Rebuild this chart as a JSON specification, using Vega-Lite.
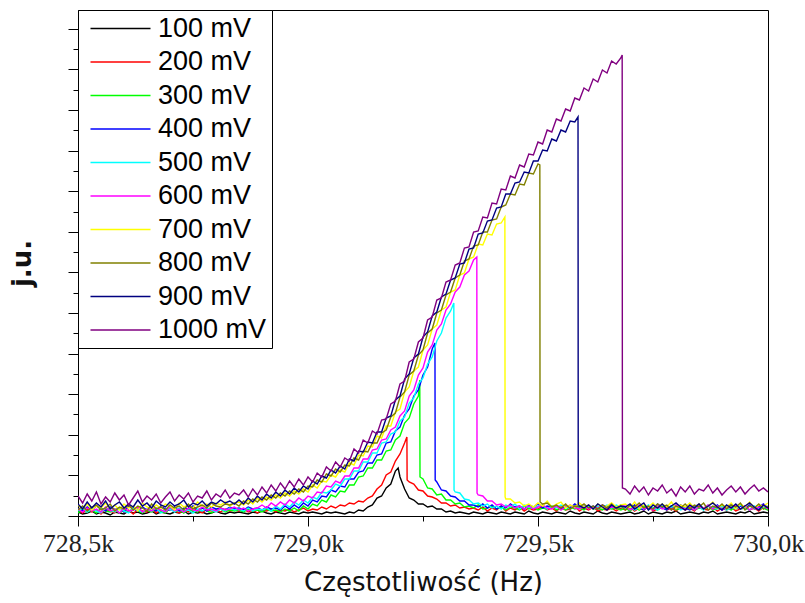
{
"$schema": "https://vega.github.io/schema/vega-lite/v6.json",
"autosize": {"type": "none"},
"padding": {"left": 78, "top": 10, "right": 37, "bottom": 87},
"width": 690,
"height": 506,
"background": "white",
"data": {"values": [
{"f":728.5,"100":4,"200":6,"300":3,"400":8,"500":5,"600":7,"700":11,"800":6,"900":12,"1000":20},
{"f":728.51,"100":2,"200":3,"300":7,"400":5,"500":8,"600":4,"700":7,"800":10,"900":7,"1000":13},
{"f":728.52,"100":3,"200":7,"300":4,"400":9,"500":4,"600":8,"700":12,"800":5,"900":14,"1000":22},
{"f":728.53,"100":5,"200":4,"300":6,"400":6,"500":7,"600":5,"700":6,"800":9,"900":8,"1000":15},
{"f":728.54,"100":2,"200":6,"300":3,"400":10,"500":5,"600":7,"700":10,"800":11,"900":13,"1000":24},
{"f":728.55,"100":4,"200":2,"300":8,"400":7,"500":3,"600":4,"700":8,"800":6,"900":9,"1000":12},
{"f":728.56,"100":3,"200":7,"300":5,"400":5,"500":8,"600":9,"700":13,"800":8,"900":15,"1000":19},
{"f":728.57,"100":1,"200":5,"300":4,"400":9,"500":6,"600":5,"700":7,"800":12,"900":7,"1000":14},
{"f":728.58,"100":4,"200":3,"300":7,"400":6,"500":4,"600":7,"700":11,"800":5,"900":11,"1000":23},
{"f":728.59,"100":3,"200":8,"300":3,"400":8,"500":7,"600":3,"700":6,"800":9,"900":14,"1000":16},
{"f":728.6,"100":2,"200":4,"300":6,"400":4,"500":5,"600":8,"700":12,"800":7,"900":8,"1000":21},
{"f":728.61,"100":5,"200":6,"300":4,"400":10,"500":3,"600":5,"700":8,"800":11,"900":12,"1000":11},
{"f":728.62,"100":3,"200":2,"300":8,"400":7,"500":8,"600":6,"700":10,"800":6,"900":9,"1000":18},
{"f":728.63,"100":4,"200":7,"300":5,"400":5,"500":6,"600":9,"700":5,"800":10,"900":16,"1000":25},
{"f":728.64,"100":2,"200":5,"300":3,"400":9,"500":4,"600":4,"700":13,"800":8,"900":10,"1000":14},
{"f":728.65,"100":3,"200":4,"300":6,"400":6,"500":7,"600":7,"700":9,"800":5,"900":13,"1000":20},
{"f":728.66,"100":5,"200":8,"300":4,"400":8,"500":5,"600":5,"700":7,"800":12,"900":8,"1000":16},
{"f":728.67,"100":2,"200":3,"300":7,"400":5,"500":8,"600":8,"700":11,"800":7,"900":15,"1000":22},
{"f":728.68,"100":4,"200":6,"300":5,"400":10,"500":3,"600":6,"700":8,"800":9,"900":11,"1000":13},
{"f":728.69,"100":3,"200":4,"300":3,"400":7,"500":6,"600":4,"700":12,"800":6,"900":9,"1000":19},
{"f":728.7,"100":2,"200":7,"300":8,"400":6,"500":7,"600":9,"700":10,"800":11,"900":14,"1000":24},
{"f":728.71,"100":4,"200":5,"300":4,"400":9,"500":4,"600":5,"700":6,"800":8,"900":10,"1000":15},
{"f":728.72,"100":3,"200":3,"300":6,"400":5,"500":8,"600":7,"700":13,"800":10,"900":12,"1000":21},
{"f":728.73,"100":5,"200":6,"300":3,"400":8,"500":5,"600":4,"700":9,"800":6,"900":16,"1000":17},
{"f":728.74,"100":2,"200":4,"300":7,"400":7,"500":6,"600":8,"700":11,"800":12,"900":9,"1000":23},
{"f":728.75,"100":4,"200":8,"300":5,"400":10,"500":3,"600":6,"700":8,"800":7,"900":13,"1000":14},
{"f":728.76,"100":3,"200":5,"300":4,"400":6,"500":7,"600":5,"700":14,"800":9,"900":11,"1000":20},
{"f":728.77,"100":4,"200":3,"300":8,"400":8,"500":5,"600":9,"700":10,"800":11,"900":15,"1000":18},
{"f":728.78,"100":2,"200":7,"300":5,"400":5,"500":8,"600":6,"700":12,"800":8,"900":10,"1000":25},
{"f":728.79,"100":3,"200":5,"300":3,"400":9,"500":6,"600":7,"700":9,"800":13,"900":14,"1000":16},
{"f":728.8,"100":5,"200":6,"300":6,"400":7,"500":4,"600":5,"700":13,"800":10,"900":12,"1000":22},
{"f":728.81,"100":3,"200":4,"300":7,"400":8,"500":7,"600":8,"700":11,"800":9,"900":16,"1000":19},
{"f":728.82,"100":2,"200":7,"300":4,"400":6,"500":5,"600":6,"700":14,"800":12,"900":13,"1000":26},
{"f":728.83,"100":4,"200":5,"300":6,"400":9,"500":8,"600":7,"700":10,"800":11,"900":15,"1000":18},
{"f":728.84,"100":3,"200":6,"300":5,"400":7,"500":6,"600":9,"700":13,"800":13,"900":12,"1000":23},
{"f":728.85,"100":4,"200":5,"300":6,"400":8,"500":7,"600":6,"700":14,"800":10,"900":16,"1000":21},
{"f":728.86,"100":3,"200":7,"300":4,"400":6,"500":5,"600":8,"700":11,"800":15,"900":12,"1000":26},
{"f":728.87,"100":2,"200":4,"300":7,"400":9,"500":8,"600":5,"700":16,"800":12,"900":18,"1000":19},
{"f":728.88,"100":4,"200":6,"300":5,"400":7,"500":5,"600":7,"700":12,"800":17,"900":14,"1000":27},
{"f":728.89,"100":3,"200":3,"300":6,"400":8,"500":7,"600":8,"700":18,"800":14,"900":20,"1000":21},
{"f":728.9,"100":5,"200":6,"300":4,"400":6,"500":6,"600":11,"700":14,"800":19,"900":16,"1000":29},
{"f":728.91,"100":3,"200":5,"300":7,"400":9,"500":8,"600":8,"700":19,"800":16,"900":22,"1000":23},
{"f":728.92,"100":2,"200":7,"300":5,"400":7,"500":5,"600":13,"700":16,"800":21,"900":18,"1000":31},
{"f":728.93,"100":4,"200":4,"300":6,"400":8,"500":10,"600":10,"700":21,"800":18,"900":24,"1000":25},
{"f":728.94,"100":3,"200":6,"300":4,"400":6,"500":7,"600":14,"700":18,"800":23,"900":20,"1000":33},
{"f":728.95,"100":2,"200":5,"300":7,"400":10,"500":12,"600":11,"700":23,"800":20,"900":26,"1000":27},
{"f":728.96,"100":4,"200":7,"300":5,"400":7,"500":9,"600":16,"700":20,"800":25,"900":22,"1000":35},
{"f":728.97,"100":3,"200":4,"300":8,"400":11,"500":14,"600":13,"700":25,"800":22,"900":28,"1000":29},
{"f":728.98,"100":2,"200":6,"300":5,"400":8,"500":11,"600":18,"700":22,"800":27,"900":24,"1000":37},
{"f":728.99,"100":4,"200":8,"300":10,"400":13,"500":16,"600":15,"700":27,"800":24,"900":30,"1000":31},
{"f":729.0,"100":3,"200":5,"300":7,"400":10,"500":13,"600":20,"700":24,"800":30,"900":27,"1000":39},
{"f":729.01,"100":4,"200":7,"300":12,"400":16,"500":19,"600":18,"700":31,"800":29,"900":35,"1000":34},
{"f":729.02,"100":3,"200":6,"300":10,"400":14,"500":17,"600":24,"700":28,"800":36,"900":32,"1000":43},
{"f":729.03,"100":2,"200":9,"300":16,"400":20,"500":24,"600":23,"700":35,"800":34,"900":40,"1000":39},
{"f":729.04,"100":4,"200":7,"300":14,"400":19,"500":23,"600":30,"700":34,"800":42,"900":38,"1000":49},
{"f":729.05,"100":3,"200":10,"300":21,"400":26,"500":26,"600":29,"700":41,"800":40,"900":46,"1000":45},
{"f":729.06,"100":4,"200":8,"300":19,"400":24,"500":32,"600":35,"700":39,"800":47,"900":43,"1000":54},
{"f":729.07,"100":3,"200":11,"300":25,"400":30,"500":30,"600":33,"700":46,"800":44,"900":50,"1000":49},
{"f":729.08,"100":2,"200":10,"300":24,"400":29,"500":37,"600":40,"700":44,"800":51,"900":47,"1000":58},
{"f":729.09,"100":4,"200":13,"300":31,"400":37,"500":37,"600":40,"700":53,"800":50,"900":57,"1000":55},
{"f":729.1,"100":3,"200":12,"300":31,"400":37,"500":45,"600":48,"700":51,"800":58,"900":55,"1000":67},
{"f":729.11,"100":6,"200":15,"300":39,"400":44,"500":45,"600":48,"700":61,"800":56,"900":65,"1000":63},
{"f":729.12,"100":5,"200":14,"300":40,"400":45,"500":54,"600":57,"700":60,"800":65,"900":64,"1000":76},
{"f":729.13,"100":9,"200":18,"300":48,"400":53,"500":54,"600":57,"700":70,"800":64,"900":74,"1000":73},
{"f":729.14,"100":11,"200":20,"300":48,"400":53,"500":63,"600":66,"700":69,"800":73,"900":73,"1000":85},
{"f":729.15,"100":18,"200":27,"300":56,"400":61,"500":63,"600":67,"700":80,"800":73,"900":84,"1000":82},
{"f":729.16,"100":20,"200":31,"300":56,"400":62,"500":73,"600":76,"700":78,"800":83,"900":84,"1000":96},
{"f":729.17,"100":28,"200":41,"300":65,"400":73,"500":74,"600":77,"700":90,"800":86,"900":98,"1000":97},
{"f":729.18,"100":32,"200":44,"300":66,"400":74,"500":82,"600":86,"700":90,"800":99,"900":100,"1000":112},
{"f":729.19,"100":45,"200":55,"300":76,"400":85,"500":84,"600":89,"700":104,"800":103,"900":116,"1000":115},
{"f":729.2,"100":39,"200":62,"300":80,"400":89,"500":95,"600":100,"700":107,"800":119,"900":120,"1000":132},
{"f":729.21,"100":27,"200":73,"300":93,"400":101,"500":99,"600":105,"700":124,"800":124,"900":137,"1000":135},
{"f":729.22,"100":18,"200":34,"300":98,"400":107,"500":113,"600":120,"700":129,"800":141,"900":142,"1000":154},
{"f":729.23,"100":16,"200":32,"300":112,"400":120,"500":118,"600":126,"700":145,"800":145,"900":158,"1000":157},
{"f":729.24,"100":12,"200":26,"300":120,"400":126,"500":132,"600":141,"700":149,"800":161,"900":162,"1000":174},
{"f":729.25,"100":12,"200":25,"300":37,"400":141,"500":138,"600":148,"700":166,"800":166,"900":179,"1000":178},
{"f":729.26,"100":9,"200":20,"300":28,"400":149,"500":152,"600":164,"700":171,"800":183,"900":184,"1000":196},
{"f":729.27,"100":10,"200":19,"300":27,"400":167,"500":159,"600":171,"700":187,"800":187,"900":200,"1000":199},
{"f":729.28,"100":7,"200":17,"300":21,"400":34,"500":175,"600":186,"700":191,"800":203,"900":204,"1000":216},
{"f":729.29,"100":7,"200":13,"300":22,"400":26,"500":183,"600":192,"700":206,"800":206,"900":219,"1000":218},
{"f":729.3,"100":4,"200":13,"300":16,"400":25,"500":198,"600":206,"700":209,"800":221,"900":222,"1000":234},
{"f":729.31,"100":5,"200":10,"300":16,"400":20,"500":205,"600":212,"700":224,"800":224,"900":236,"1000":236},
{"f":729.32,"100":3,"200":11,"300":12,"400":19,"500":24,"600":224,"700":226,"800":238,"900":238,"1000":251},
{"f":729.33,"100":4,"200":8,"300":13,"400":15,"500":23,"600":229,"700":241,"800":241,"900":252,"1000":253},
{"f":729.34,"100":3,"200":9,"300":9,"400":15,"500":17,"600":241,"700":243,"800":255,"900":253,"1000":268},
{"f":729.35,"100":2,"200":7,"300":10,"400":11,"500":16,"600":245,"700":257,"800":257,"900":267,"1000":269},
{"f":729.36,"100":4,"200":8,"300":8,"400":11,"500":12,"600":256,"700":259,"800":270,"900":268,"1000":284},
{"f":729.37,"100":3,"200":6,"300":11,"400":9,"500":13,"600":21,"700":272,"800":271,"900":282,"1000":285},
{"f":729.38,"100":2,"200":9,"300":7,"400":12,"500":10,"600":20,"700":271,"800":284,"900":283,"1000":299},
{"f":729.39,"100":4,"200":5,"300":8,"400":8,"500":12,"600":15,"700":282,"800":284,"900":295,"1000":298},
{"f":729.4,"100":3,"200":8,"300":10,"400":11,"500":8,"600":15,"700":281,"800":296,"900":296,"1000":313},
{"f":729.41,"100":2,"200":6,"300":7,"400":7,"500":10,"600":11,"700":292,"800":297,"900":308,"1000":312},
{"f":729.42,"100":4,"200":10,"300":9,"400":10,"500":7,"600":12,"700":293,"800":309,"900":309,"1000":327},
{"f":729.43,"100":3,"200":5,"300":6,"400":8,"500":11,"600":9,"700":17,"800":311,"900":322,"1000":326},
{"f":729.44,"100":2,"200":8,"300":9,"400":12,"500":9,"600":11,"700":17,"800":322,"900":322,"1000":340},
{"f":729.45,"100":4,"200":6,"300":8,"400":9,"500":12,"600":8,"700":13,"800":321,"900":333,"1000":338},
{"f":729.46,"100":3,"200":9,"300":6,"400":10,"500":7,"600":10,"700":14,"800":332,"900":334,"1000":351},
{"f":729.47,"100":2,"200":5,"300":10,"400":7,"500":11,"600":7,"700":10,"800":331,"900":344,"1000":349},
{"f":729.48,"100":5,"200":8,"300":7,"400":11,"500":9,"600":10,"700":12,"800":343,"900":343,"1000":362},
{"f":729.49,"100":3,"200":6,"300":9,"400":9,"500":8,"600":7,"700":9,"800":342,"900":355,"1000":361},
{"f":729.5,"100":2,"200":7,"300":6,"400":12,"500":10,"600":9,"700":13,"800":352,"900":355,"1000":374},
{"f":729.51,"100":4,"200":10,"300":8,"400":8,"500":11,"600":11,"700":10,"800":12,"900":366,"1000":372},
{"f":729.52,"100":3,"200":6,"300":7,"400":10,"500":7,"600":8,"700":15,"800":13,"900":365,"1000":386},
{"f":729.53,"100":2,"200":8,"300":10,"400":9,"500":10,"600":7,"700":9,"800":9,"900":377,"1000":384},
{"f":729.54,"100":4,"200":5,"300":6,"400":11,"500":8,"600":10,"700":12,"800":11,"900":375,"1000":397},
{"f":729.55,"100":3,"200":9,"300":8,"400":7,"500":11,"600":6,"700":14,"800":8,"900":386,"1000":395},
{"f":729.56,"100":2,"200":6,"300":6,"400":10,"500":9,"600":9,"700":8,"800":12,"900":384,"1000":407},
{"f":729.57,"100":5,"200":7,"300":9,"400":8,"500":7,"600":11,"700":11,"800":7,"900":395,"1000":405},
{"f":729.58,"100":3,"200":10,"300":7,"400":12,"500":10,"600":8,"700":9,"800":10,"900":394,"1000":418},
{"f":729.59,"100":2,"200":5,"300":8,"400":9,"500":8,"600":7,"700":13,"800":9,"900":10,"1000":416},
{"f":729.6,"100":4,"200":8,"300":6,"400":11,"500":11,"600":10,"700":9,"800":12,"900":8,"1000":428},
{"f":729.61,"100":3,"200":6,"300":10,"400":8,"500":9,"600":7,"700":11,"800":8,"900":11,"1000":425},
{"f":729.62,"100":2,"200":9,"300":7,"400":10,"500":7,"600":9,"700":7,"800":10,"900":7,"1000":437},
{"f":729.63,"100":5,"200":5,"300":8,"400":7,"500":10,"600":8,"700":12,"800":7,"900":12,"1000":434},
{"f":729.64,"100":3,"200":7,"300":6,"400":11,"500":8,"600":11,"700":8,"800":11,"900":9,"1000":446},
{"f":729.65,"100":2,"200":6,"300":9,"400":9,"500":11,"600":7,"700":10,"800":8,"900":6,"1000":443},
{"f":729.66,"100":4,"200":8,"300":7,"400":10,"500":8,"600":9,"700":13,"800":12,"900":11,"1000":455},
{"f":729.67,"100":3,"200":5,"300":8,"400":8,"500":11,"600":8,"700":9,"800":7,"900":8,"1000":452},
{"f":729.68,"100":2,"200":8,"300":6,"400":11,"500":9,"600":10,"700":11,"800":10,"900":10,"1000":458},
{"f":729.69,"100":3,"200":6,"300":8,"400":9,"500":7,"600":10,"700":12,"800":6,"900":9,"1000":27},
{"f":729.7,"100":4,"200":9,"300":5,"400":7,"500":10,"600":6,"700":8,"800":11,"900":12,"1000":22},
{"f":729.71,"100":2,"200":5,"300":9,"400":11,"500":6,"600":8,"700":14,"800":9,"900":7,"1000":30},
{"f":729.72,"100":3,"200":8,"300":6,"400":8,"500":9,"600":11,"700":7,"800":13,"900":10,"1000":24},
{"f":729.73,"100":5,"200":6,"300":10,"400":6,"500":7,"600":7,"700":11,"800":8,"900":13,"1000":29},
{"f":729.74,"100":2,"200":10,"300":7,"400":10,"500":11,"600":9,"700":9,"800":10,"900":6,"1000":21},
{"f":729.75,"100":4,"200":5,"300":8,"400":7,"500":8,"600":6,"700":13,"800":7,"900":11,"1000":28},
{"f":729.76,"100":3,"200":7,"300":6,"400":12,"500":6,"600":10,"700":8,"800":12,"900":8,"1000":25},
{"f":729.77,"100":2,"200":9,"300":9,"400":8,"500":10,"600":7,"700":12,"800":9,"900":12,"1000":31},
{"f":729.78,"100":4,"200":6,"300":7,"400":6,"500":7,"600":9,"700":9,"800":11,"900":7,"1000":23},
{"f":729.79,"100":3,"200":8,"300":10,"400":10,"500":9,"600":6,"700":14,"800":6,"900":10,"1000":27},
{"f":729.8,"100":5,"200":5,"300":6,"400":7,"500":11,"600":11,"700":7,"800":10,"900":13,"1000":20},
{"f":729.81,"100":2,"200":9,"300":8,"400":11,"500":6,"600":8,"700":11,"800":8,"900":9,"1000":29},
{"f":729.82,"100":3,"200":6,"300":7,"400":8,"500":8,"600":7,"700":9,"800":12,"900":6,"1000":24},
{"f":729.83,"100":4,"200":8,"300":9,"400":6,"500":10,"600":10,"700":13,"800":7,"900":11,"1000":30},
{"f":729.84,"100":3,"200":5,"300":6,"400":9,"500":7,"600":6,"700":8,"800":11,"900":8,"1000":22},
{"f":729.85,"100":2,"200":10,"300":8,"400":12,"500":9,"600":9,"700":12,"800":9,"900":12,"1000":27},
{"f":729.86,"100":4,"200":7,"300":7,"400":7,"500":6,"600":8,"700":7,"800":13,"900":7,"1000":25},
{"f":729.87,"100":3,"200":6,"300":10,"400":10,"500":11,"600":11,"700":10,"800":6,"900":10,"1000":31},
{"f":729.88,"100":5,"200":9,"300":6,"400":8,"500":8,"600":7,"700":14,"800":10,"900":13,"1000":23},
{"f":729.89,"100":2,"200":5,"300":8,"400":11,"500":7,"600":10,"700":8,"800":8,"900":9,"1000":28},
{"f":729.9,"100":3,"200":8,"300":7,"400":6,"500":10,"600":6,"700":11,"800":12,"900":6,"1000":21},
{"f":729.91,"100":4,"200":6,"300":9,"400":9,"500":6,"600":9,"700":9,"800":7,"900":11,"1000":26},
{"f":729.92,"100":3,"200":9,"300":6,"400":12,"500":9,"600":8,"700":13,"800":11,"900":8,"1000":30},
{"f":729.93,"100":2,"200":5,"300":10,"400":7,"500":7,"600":11,"700":7,"800":9,"900":12,"1000":24},
{"f":729.94,"100":4,"200":7,"300":7,"400":10,"500":11,"600":7,"700":12,"800":13,"900":7,"1000":29},
{"f":729.95,"100":3,"200":10,"300":8,"400":8,"500":8,"600":10,"700":9,"800":6,"900":10,"1000":22},
{"f":729.96,"100":5,"200":6,"300":6,"400":11,"500":6,"600":6,"700":14,"800":10,"900":13,"1000":27},
{"f":729.97,"100":2,"200":8,"300":9,"400":7,"500":10,"600":9,"700":8,"800":8,"900":9,"1000":31},
{"f":729.98,"100":3,"200":5,"300":7,"400":9,"500":7,"600":8,"700":11,"800":12,"900":6,"1000":25},
{"f":729.99,"100":4,"200":9,"300":8,"400":12,"500":9,"600":11,"700":10,"800":7,"900":11,"1000":28},
{"f":730.0,"100":3,"200":6,"300":6,"400":8,"500":8,"600":7,"700":13,"800":10,"900":8,"1000":24},
{"f":729.196,"100":48},
{"f":729.215,"200":79},
{"f":729.2155,"200":36},
{"f":729.243,"300":136},
{"f":729.2435,"300":39},
{"f":729.276,"400":173},
{"f":729.2765,"400":36},
{"f":729.317,"500":213},
{"f":729.3175,"500":26},
{"f":729.367,"600":259},
{"f":729.3675,"600":23},
{"f":729.428,"700":299},
{"f":729.4285,"700":19},
{"f":729.504,"800":351},
{"f":729.5045,"800":14},
{"f":729.587,"900":399},
{"f":729.5875,"900":12},
{"f":729.683,"1000":461},
{"f":729.6835,"1000":28}
]},
"transform": [
  {"fold": ["100","200","300","400","500","600","700","800","900","1000"], "as": ["s","h"]},
  {"filter": "isValid(datum.h)"}
],
"mark": {"type": "line", "strokeWidth": 1.4, "clip": true, "interpolate": "linear"},
"encoding": {
  "x": {"field": "f", "type": "quantitative",
    "scale": {"domain": [728.5, 730.0], "nice": false, "zero": false},
    "axis": {
      "values": [728.5, 728.75, 729.0, 729.25, 729.5, 729.75, 730.0],
      "labelExpr": "round(datum.value*4)%2==0 ? replace(format(datum.value,'.1f'),'.',',') + 'k' : ''",
      "tickSize": {"condition": {"test": "round(datum.value*4)%2==0", "value": 10}, "value": 5},
      "labelFont": "Liberation Sans Narrow", "labelFontSize": 26, "labelColor": "#222", "labelPadding": 4,
      "labelFlush": false, "labelOverlap": false,
      "title": "Częstotliwość (Hz)", "titleFont": "DejaVu Sans", "titleFontSize": 26, "titleFontWeight": "normal",
      "titleColor": "#111", "titlePadding": 13,
      "domainColor": "#000", "tickColor": "#000", "grid": false
    }
  },
  "y": {"field": "h", "type": "quantitative",
    "scale": {"domain": [0, 506], "nice": false, "zero": true},
    "axis": {
      "values": [0,20.3,40.6,60.9,81.2,101.5,121.8,142.1,162.4,182.7,203,223.3,243.6,263.9,284.2,304.5,324.8,345.1,365.4,385.7,406,426.3,446.6,466.9,487.2],
      "labels": false,
      "tickSize": {"condition": {"test": "round(datum.value/20.3)%2==0", "value": 10}, "value": 5},
      "title": "j.u.", "titleFont": "DejaVu Sans", "titleFontSize": 26, "titleFontWeight": "bold", "titleColor": "#111",
      "titlePadding": 32,
      "domainColor": "#000", "tickColor": "#000", "grid": false
    }
  },
  "color": {"field": "s", "type": "nominal",
    "scale": {
      "domain": ["100","200","300","400","500","600","700","800","900","1000"],
      "range": ["#000000","#FF0000","#00FF00","#0000FF","#00FFFF","#FF00FF","#FFFF00","#808000","#000080","#800080"]
    },
    "legend": {
      "orient": "none", "legendX": 0, "legendY": 0, "title": null,
      "symbolType": "M-3,0H3", "symbolSize": 400, "symbolStrokeWidth": 1.5,
      "symbolOffset": 24, "labelOffset": 24,
      "labelExpr": "datum.label + ' mV'",
      "labelFont": "Liberation Sans", "labelFontSize": 27, "labelColor": "#000",
      "padding": 5, "rowPadding": 5.5,
      "strokeColor": "#000", "fillColor": "#fff"
    }
  }
},
"config": {
  "view": {"stroke": "#000", "strokeWidth": 1},
  "axis": {"grid": false}
}
}
